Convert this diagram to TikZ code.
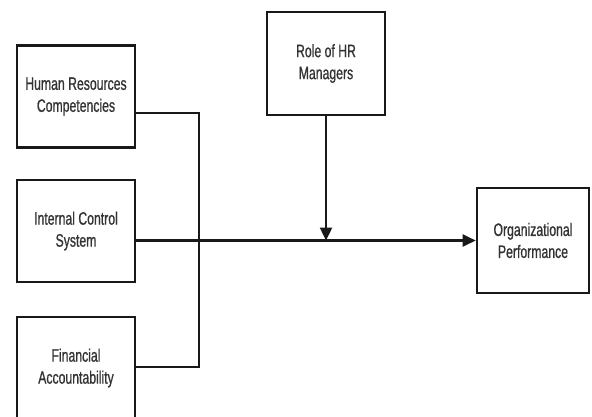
\documentclass[tikz,border=0pt]{standalone}
\usepackage{fontspec}
\setmainfont{Liberation Sans}[FakeStretch=0.68,FakeBold=0.8]
\usetikzlibrary{arrows.meta,calc}
\begin{document}
\begin{tikzpicture}[x=1pt,y=-1pt,
  box/.style={draw=black!90,line width=2.6pt,fill=white,minimum width=118pt,minimum height=102pt,
    align=center,text=black!80,font=\fontsize{18}{22}\selectfont,inner sep=2pt},
  conn/.style={draw=black!90,line width=2.4pt},
  arr/.style={conn,-{Triangle[length=13pt,width=12pt]}}]
\useasboundingbox[fill=white] (0,0) rectangle (592,416);
\node[box] (hr) at (76,96.5) {Human Resources\\Competencies};
\node[box] (ic) at (76,231) {Internal Control\\System};
\node[box] (fa) at (76,368) {Financial\\Accountability};
\node[box,minimum height=103pt] (role) at (326,63.5) {Role of HR\\Managers};
\node[box,minimum width=112pt,minimum height=105pt] (org) at (533,240.5) {Organizational\\Performance};
\coordinate (jx) at (199,240.5);
\coordinate (jy) at (232,240.5);
\draw[conn] ($(hr.east)+(0,16.5)$) -| (jx);
\draw[conn] ($(fa.east)+(0,-1)$) -| (jx);
\draw[arr] (ic.east |- org.west) -- (org.west);
\draw[conn,line width=3.4pt] (jx) -- (jy);
\coordinate (mid) at (role.south |- org.west);
\draw[arr] (role.south) -- (mid);
\end{tikzpicture}
\end{document}
